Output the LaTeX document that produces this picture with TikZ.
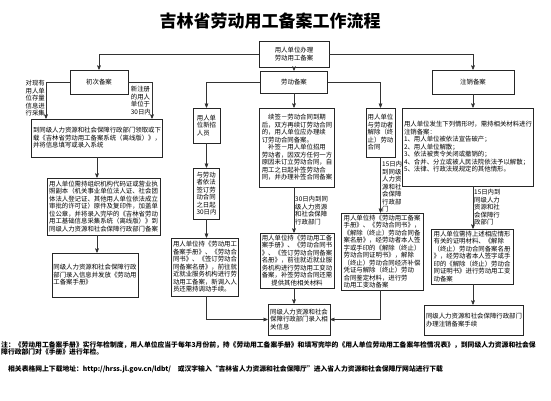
\documentclass[tikz,border=0pt]{standalone}
\usepackage{fontspec}
\setmainfont{Noto Sans CJK SC}
\usepackage{tikz}
\usetikzlibrary{arrows}
\tikzset{
 box/.style={draw=black!85, line width=.7pt, inner sep=1.5pt, align=left, font=\fontsize{6.4}{7.5}\selectfont},
 head/.style={box, align=center},
 lab/.style={inner sep=1pt, align=left, font=\fontsize{6.4}{7.5}\selectfont},
 link/.style={black!80, line width=.6pt, ->, >=stealth'},
 note/.style={inner sep=0pt, align=left, font=\bfseries\fontsize{6.8}{7.6}\selectfont},
}

\begin{document}
\begin{tikzpicture}[x=1pt, y=-1pt]
\useasboundingbox (0,0) rectangle (551,400);
\node[font=\bfseries\fontsize{17}{17}\selectfont] (title) at (270,21) {吉林省劳动用工备案工作流程};

\node[head, minimum width=70, minimum height=26] (top) at (294,54) {用人单位办理\\劳动用工备案};
\node[head, minimum width=58, minimum height=24] (first) at (99,82) {初次备案};
\node[head, minimum width=67, minimum height=22] (labour) at (294,82) {劳动备案};
\node[head, minimum width=82, minimum height=24] (cancel) at (473,82) {注销备案};

\node[lab, anchor=north east] (lblA) at (46,79) {对现有\\用人单\\位存量\\信息进\\行采集};
\node[lab, anchor=north east] (lblB) at (152,85) {新注册\\的用人\\单位于\\30日内};
\node[box, minimum width=130, minimum height=38] (box1) at (97,138) {到同级人力资源和社会保障行政部门领取或下\\载《吉林省劳动用工备案系统（离线版）》，\\并将信息填写或录入系统};
\node[box, minimum width=113, minimum height=57] (box2) at (103.5,206.5) {用人单位需持组织机构代码证或营业执\\照副本（机关事业单位法人证、社会团\\体法人登记证、其他用人单位依法成立\\审批的许可证）原件及复印件，加盖单\\位公章，并将录入完毕的《吉林省劳动\\用工基础信息采集系统（离线版）》到\\同级人力资源和社会保障行政部门备案};
\node[box, minimum width=86, minimum height=44] (box3) at (95,275) {同级人力资源和社会保障行政\\部门录入信息并发放《劳动用\\工备案手册》};

\node[box, minimum width=27, minimum height=35] (newhire) at (206.5,125.5) {用人单\\位新招\\人员};
\node[box, minimum width=26, minimum height=51] (contract30) at (206.5,193.5) {与劳动\\者依法\\签订劳\\动合同\\之日起\\30日内};
\node[box, minimum width=66, minimum height=58] (hirebox) at (205,267) {用人单位持《劳动用工\\备案手册》、《劳动合\\同书》、《签订劳动合\\同备案名册》，前往就\\近就业服务机构进行劳\\动用工备案，新调入人\\员还需持调动手续。};

\node[box, minimum width=75, minimum height=79] (renew) at (297,147.5) {\hspace{1em}续签－劳动合同到期\\后，双方再续订劳动合同\\的，用人单位应办理续\\订劳动合同备案。\\\hspace{1em}补签－用人单位招用\\劳动者，因双方任何一方\\原因未订立劳动合同，自\\用工之日起补签劳动合\\同，并办理补签合同备案};
\node[lab, anchor=north west] (lblC) at (294,195) {30日内到同\\级人力资源\\和社会保障\\行政部门};
\node[box, minimum width=74, minimum height=55] (changebox) at (297,260.5) {用人单位持《劳动用工备\\案手册》、《劳动合同书\\》、《签订劳动合同备案\\名册》，前往就近就业服\\务机构进行劳动用工变动\\备案，补签劳动合同还需\\\hspace{1.5em}提供其他相关材料};
\node[box, minimum width=62, minimum height=31] (recordbox) at (299,319.5) {同级人力资源和社会\\保障行政部门录入相\\关信息};

\node[box, minimum width=29, minimum height=49] (dismiss) at (380.5,132.5) {用人单位\\与劳动者\\解除（终\\止）劳动\\合同};
\node[lab, anchor=north west] (lblD) at (381,160) {15日内\\到同级\\人力资\\源和社\\会保障\\行政部\\门};
\node[box, minimum width=82, minimum height=77] (dismissbox) at (382,251.5) {用人单位持《劳动用工备案\\手册》、《劳动合同书》，\\《解除（终止）劳动合同备\\案名册》，经劳动者本人签\\字或手印的《解除（终止）\\劳动合同证明书》，解除\\（终止）劳动合同经济补偿\\凭证与解除（终止）劳动\\合同鉴定材料，进行劳\\动用工变动备案};

\node[box, minimum width=130, minimum height=78] (cancelbox) at (468,147) {用人单位发生下列情形时，需持相关材料进行\\注销备案：\\1、用人单位被依法宣告破产；\\2、用人单位解散；\\3、依法被责令关闭或撤销的；\\4、合并、分立或被人民法院依法予以解散；\\5、法律、行政法规规定的其他情形。};
\node[lab, anchor=north west] (lblE) at (473,188) {15日内到\\同级人力\\资源和社\\会保障行\\政部门};
\node[box, minimum width=82, minimum height=55] (cancelbox2) at (472,256.5) {用人单位需持上述相应情形\\有关的证明材料、《解除\\（终止）劳动合同备案名册\\》，经劳动者本人签字或手\\印的《解除（终止）劳动合\\同证明书》进行劳动用工变\\动备案};
\node[box, minimum width=96, minimum height=30] (cancelfinal) at (474,320) {同级人力资源和社会保障行政部门\\办理注销备案手续};

\draw[link] (top.south) -- (labour.north);
\draw[link] (top.west) -| (first.north);
\draw[link] (top.east) -| (cancel.north);
\draw[link] (first.west) -| (lblA.east |- box1.north);
\draw[link] (first.east) -| (lblB.east |- box1.north);
\draw[link] (box1.south) -- (box1.south |- box2.north);
\draw[link] (box1.south |- box2.south) -- (box1.south |- box3.north);
\draw[link] (labour.west) -| (newhire.north);
\draw[link] (newhire.south) -- (contract30.north);
\draw[link] (contract30.south) -- (contract30.south |- hirebox.north);
\draw[link] (contract30.south |- hirebox.south) |- (recordbox.west);
\draw[link] (labour.south) -- (labour.south |- renew.north);
\draw[link] (lblC.west |- renew.south) -- (lblC.west |- changebox.north);
\draw[link] (lblC.west |- changebox.south) -- (lblC.west |- recordbox.north);
\draw[link] (labour.east) -| (dismiss.north);
\draw[link] (dismiss.south) -- (dismiss.south |- dismissbox.north);
\draw[link] (dismiss.south |- dismissbox.south) |- (recordbox.east);
\draw[link] (lblE.west |- cancel.south) -- (lblE.west |- cancelbox.north);
\draw[link] (lblE.west |- cancelbox.south) -- (lblE.west |- cancelbox2.north);
\draw[link] (lblE.west |- cancelbox2.south) -- (lblE.west |- cancelfinal.north);

\node[note, anchor=north west] (remark) at (1,341) {注：《劳动用工备案手册》实行年检制度，用人单位应当于每年3月份前，持《劳动用工备案手册》和填写完毕的《用人单位劳动用工备案年检情况表》，到同级人力资源和社会保\\障行政部门对《手册》进行年检。};
\node[note, anchor=north west] (download) at (8,365) {相关表格网上下载地址：http://hrss.jl.gov.cn/ldbt/\quad 或汉字输入“吉林省人力资源和社会保障厅”进入省人力资源和社会保障厅网站进行下载};
\end{tikzpicture}
\end{document}
